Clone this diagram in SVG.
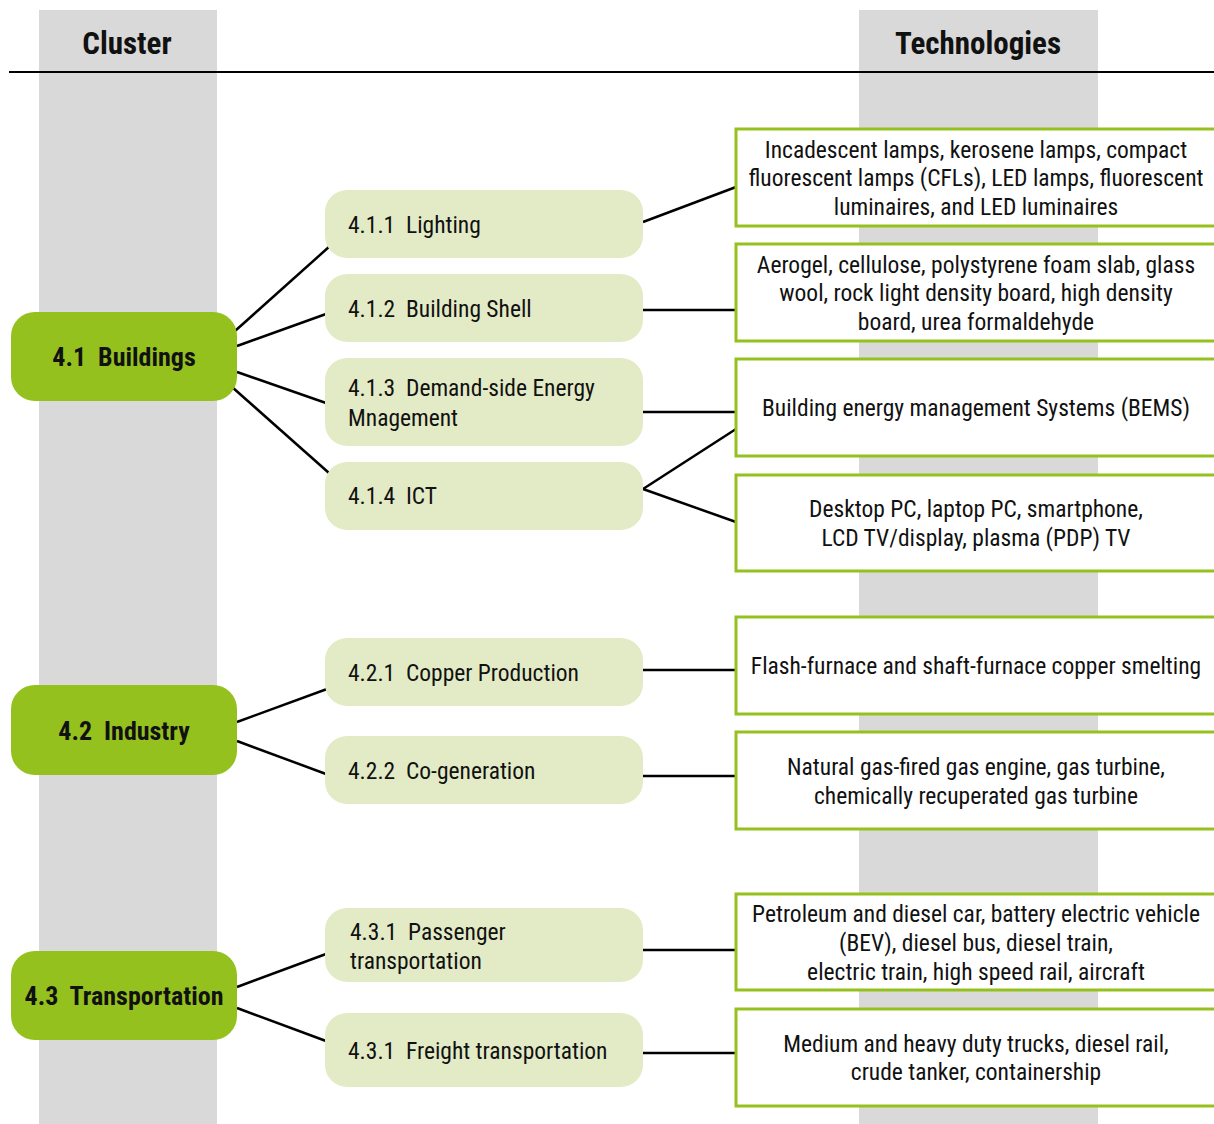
<svg xmlns="http://www.w3.org/2000/svg" width="1214" height="1124" viewBox="0 0 1214 1124">
<style>
text{font-family:"Roboto Condensed","Liberation Sans Narrow","DejaVu Sans Condensed",sans-serif;fill:#111;white-space:pre}
.hdr{font-size:31px;font-weight:bold;text-anchor:middle}
.cl rect{fill:#95c11f}
.cl text{font-size:26px;font-weight:bold;text-anchor:middle}
.sub rect{fill:#e3ebc6}
.sub text{font-size:23.5px}
.tech rect{fill:#fff;stroke:#95c11f;stroke-width:3}
.tech text{font-size:23.5px;text-anchor:middle}
.conn line{stroke:#000;stroke-width:2.5}
</style>
<rect x="0" y="0" width="1214" height="1124" fill="#fff"/>
<g id="bands">
<rect x="39" y="10" width="178" height="1114" fill="#d9d9d9"/>
<rect x="859" y="10" width="239" height="1114" fill="#d9d9d9"/>
</g>
<g id="headers">
<text class="hdr" x="127" y="54">Cluster</text>
<text class="hdr" x="978" y="54">Technologies</text>
<line x1="9" y1="72" x2="1214" y2="72" stroke="#000" stroke-width="2"/>
</g>
<g class="conn" id="connectors">
<line x1="235" y1="331" x2="330" y2="246"/>
<line x1="237" y1="346" x2="326" y2="314"/>
<line x1="237" y1="372" x2="326" y2="403"/>
<line x1="232" y1="387" x2="329" y2="473"/>
<line x1="237" y1="722" x2="327" y2="689"/>
<line x1="237" y1="741" x2="326" y2="774"/>
<line x1="237" y1="987" x2="326" y2="954"/>
<line x1="237" y1="1008" x2="326" y2="1041"/>
<line x1="643" y1="222" x2="736" y2="187"/>
<line x1="643" y1="310" x2="736" y2="310"/>
<line x1="643" y1="412" x2="736" y2="412"/>
<line x1="643" y1="489" x2="736" y2="429"/>
<line x1="643" y1="489" x2="736" y2="522"/>
<line x1="643" y1="670" x2="736" y2="670"/>
<line x1="643" y1="776" x2="736" y2="776"/>
<line x1="643" y1="950" x2="736" y2="950"/>
<line x1="643" y1="1053" x2="736" y2="1053"/>
</g>
<g class="cl" id="c41"><rect x="11" y="312" width="226" height="89" rx="24"/><text x="124" y="366">4.1  Buildings</text></g>
<g class="cl" id="c42"><rect x="11" y="685" width="226" height="90" rx="24"/><text x="124" y="740">4.2  Industry</text></g>
<g class="cl" id="c43"><rect x="11" y="951" width="226" height="89" rx="24"/><text x="124" y="1005">4.3  Transportation</text></g>
<g class="sub" id="s411"><rect x="325" y="190" width="318" height="68" rx="22"/><text x="348" y="233">4.1.1  Lighting</text></g>
<g class="sub" id="s412"><rect x="325" y="274" width="318" height="68" rx="22"/><text x="348" y="317">4.1.2  Building Shell</text></g>
<g class="sub" id="s413"><rect x="325" y="358" width="318" height="88" rx="22"/><text x="348" y="396">4.1.3  Demand-side Energy</text><text x="348" y="426">Mnagement</text></g>
<g class="sub" id="s414"><rect x="325" y="462" width="318" height="68" rx="22"/><text x="348" y="504">4.1.4  ICT</text></g>
<g class="sub" id="s421"><rect x="325" y="638" width="318" height="68" rx="22"/><text x="348" y="681">4.2.1  Copper Production</text></g>
<g class="sub" id="s422"><rect x="325" y="736" width="318" height="68" rx="22"/><text x="348" y="779">4.2.2  Co-generation</text></g>
<g class="sub" id="s431p"><rect x="325" y="908" width="318" height="74" rx="22"/><text x="350" y="940">4.3.1  Passenger</text><text x="350" y="969">transportation</text></g>
<g class="sub" id="s431f"><rect x="325" y="1013" width="318" height="74" rx="22"/><text x="348" y="1059">4.3.1  Freight transportation</text></g>
<g class="tech" id="t1"><rect x="736" y="129" width="490" height="97"/>
<text x="976" y="158">Incadescent lamps, kerosene lamps, compact</text>
<text x="976" y="186">fluorescent lamps (CFLs), LED lamps, fluorescent</text>
<text x="976" y="215">luminaires, and LED luminaires</text></g>
<g class="tech" id="t2"><rect x="736" y="244" width="490" height="97"/>
<text x="976" y="273">Aerogel, cellulose, polystyrene foam slab, glass</text>
<text x="976" y="301">wool, rock light density board, high density</text>
<text x="976" y="330">board, urea formaldehyde</text></g>
<g class="tech" id="t3"><rect x="736" y="359" width="490" height="97"/>
<text x="976" y="416">Building energy management Systems (BEMS)</text></g>
<g class="tech" id="t4"><rect x="736" y="475" width="490" height="96"/>
<text x="976" y="517">Desktop PC, laptop PC, smartphone,</text>
<text x="976" y="546">LCD TV/display, plasma (PDP) TV</text></g>
<g class="tech" id="t5"><rect x="736" y="617" width="490" height="97"/>
<text x="976" y="674">Flash-furnace and shaft-furnace copper smelting</text></g>
<g class="tech" id="t6"><rect x="736" y="732" width="490" height="97"/>
<text x="976" y="775">Natural gas-fired gas engine, gas turbine,</text>
<text x="976" y="804">chemically recuperated gas turbine</text></g>
<g class="tech" id="t7"><rect x="736" y="894" width="490" height="96"/>
<text x="976" y="922">Petroleum and diesel car, battery electric vehicle</text>
<text x="976" y="951">(BEV), diesel bus, diesel train,</text>
<text x="976" y="980">electric train, high speed rail, aircraft</text></g>
<g class="tech" id="t8"><rect x="736" y="1009" width="490" height="97"/>
<text x="976" y="1052">Medium and heavy duty trucks, diesel rail,</text>
<text x="976" y="1080">crude tanker, containership</text></g>
</svg>
